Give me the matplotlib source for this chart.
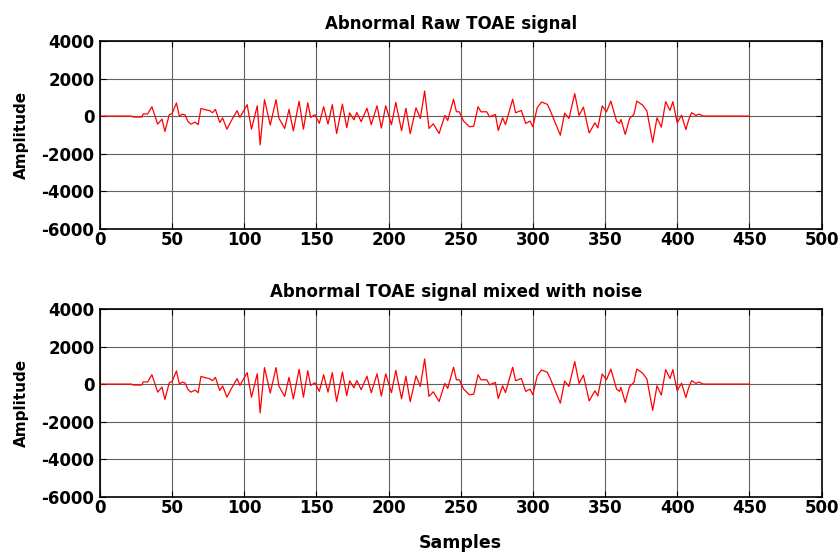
import matplotlib
matplotlib.use("Agg")
import matplotlib.pyplot as plt

# key points (sample index, amplitude)
samples = [0, 22, 23, 29, 30, 33, 36, 40, 43, 45, 48, 50, 53, 55, 57, 59, 61, 63, 66, 68,
           70, 73, 76, 78, 80, 83, 85, 88, 91, 95, 97, 102, 105, 109, 111, 114, 118, 122,
           124, 128, 131, 134, 138, 141, 144, 146, 149, 152, 155, 158, 161, 164, 168, 171,
           173, 176, 178, 181, 185, 188, 192, 195, 198, 202, 205, 209, 212, 215, 219, 222,
           225, 228, 231, 235, 239, 241, 245, 247, 249, 252, 256, 259, 262, 264, 268, 270,
           274, 276, 279, 281, 283, 286, 288, 292, 295, 298, 300, 303, 306, 310, 312, 315,
           319, 322, 325, 329, 332, 335, 339, 343, 345, 348, 351, 354, 358, 360, 361, 364,
           367, 370, 372, 376, 379, 383, 386, 389, 392, 395, 397, 400, 403, 406, 408, 410,
           413, 415, 418, 450]
amplitude = [0, 0, -50, -50, 120, 110, 500, -430, -160, -820, 70, 140, 700, 0, 100, 60,
             -290, -430, -320, -460, 410, 340, 290, 180, 360, -340, -100, -700, -250, 290,
             -70, 610, -700, 550, -1540, 880, -480, 880, -110, -660, 360, -790, 790, -700,
             710, -70, 70, -390, 500, -430, 610, -930, 640, -620, 170, -200, 190, -300, 420,
             -460, 550, -640, 550, -460, 730, -780, 420, -940, 440, -125, 1340, -660, -410,
             -930, 35, -230, 900, 230, 230, -270, -570, -540, 500, 230, 230, -40, 90, -770,
             -90, -450, 90, 900, 180, 300, -390, -270, -570, 450, 750, 630, 300, -270,
             -1020, 160, -125, 1200, 35, 480, -900, -360, -630, 540, 230, 800, -270, -390,
             -180, -980, -125, 90, 800, 590, 270, -1400, -90, -590, 770, 300, 770, -360, 50,
             -720, -180, 180, 35, 110, 0, 0]

titles = ["Abnormal Raw TOAE signal", "Abnormal TOAE signal mixed with noise"]
x_ticks = list(range(0, 501, 50))
y_ticks = list(range(-6000, 4001, 2000))

plt.rcParams['font.family'] = ['DejaVu Sans']
plt.rcParams['font.weight'] = 'bold'
plt.rcParams['axes.unicode_minus'] = False

fig = plt.figure(figsize=(8.4, 5.56), dpi=100)
ax_top = fig.add_axes([0.119, 0.589, 0.859, 0.337])
ax_bot = fig.add_axes([0.119, 0.107, 0.859, 0.337])

for ax, title, tx in zip([ax_top, ax_bot], titles, [0.486, 0.494]):
    ax.plot(samples, amplitude, color='red', linewidth=0.9)
    ax.set_xlim(0, 500)
    ax.set_ylim(-6000, 4000)
    ax.set_xticks(x_ticks)
    ax.set_yticks(y_ticks)
    ax.grid(True, color='#606060', linewidth=0.8)
    ax.tick_params(direction='in', length=4, labelsize=12, top=True, right=True)
    ax.tick_params(axis='x', pad=2)
    ax.tick_params(axis='y', pad=4)
    for lab in ax.get_xticklabels() + ax.get_yticklabels():
        lab.set_fontweight('bold')
    for sp in ax.spines.values():
        sp.set_linewidth(1.2)
    ax.set_title(title, fontsize=12, fontweight='bold', pad=9, x=tx)
    ax.set_ylabel("Amplitude", fontsize=11, fontweight='bold', labelpad=9)

ax_bot.set_xlabel("Samples", fontsize=12.5, fontweight='bold', labelpad=12)

fig.savefig("out.png", dpi=100)
